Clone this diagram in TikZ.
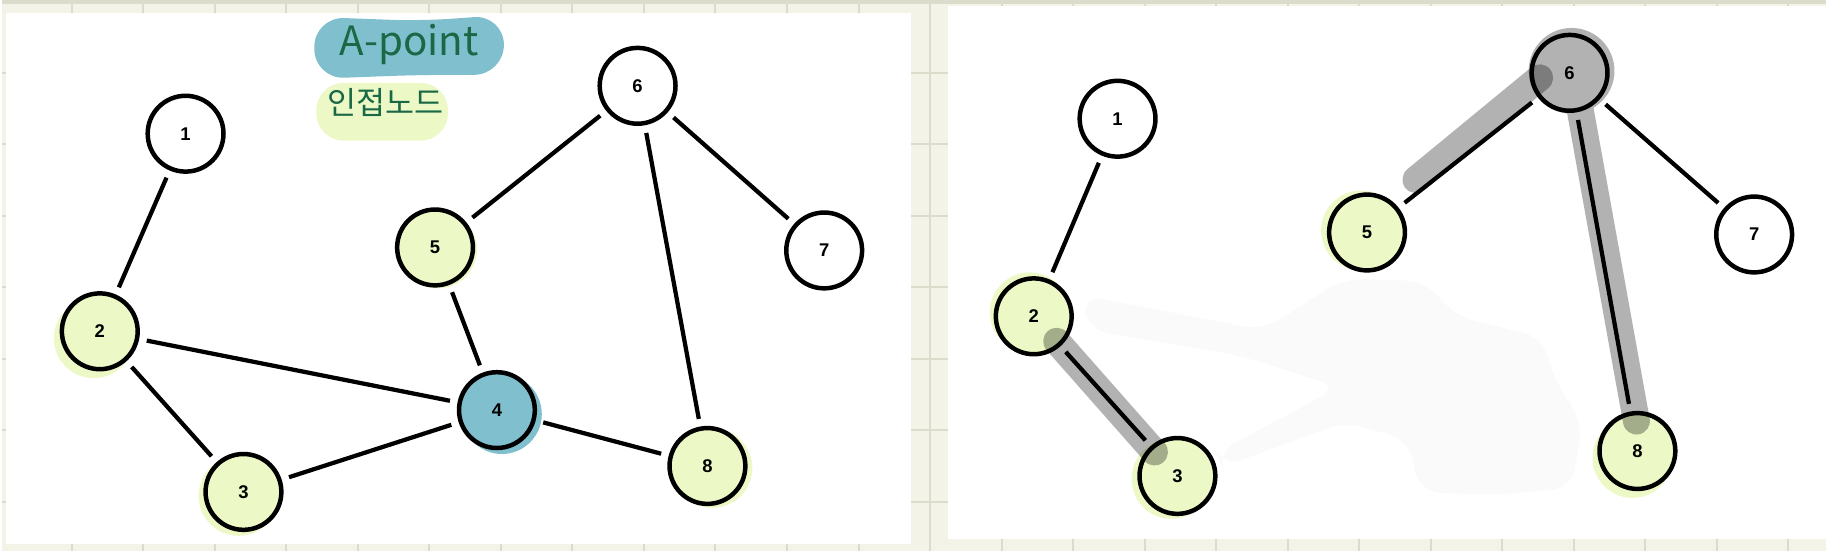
\documentclass[tikz,border=0pt]{standalone}
\usepackage{fontspec}
\setmainfont{Liberation Sans}
\newfontfamily\cjk{Noto Sans CJK KR}
\usetikzlibrary{calc}

\definecolor{paper}{RGB}{243,243,231}
\definecolor{gridline}{RGB}{220,220,205}
\definecolor{apoint}{RGB}{128,191,206}
\definecolor{adjnode}{RGB}{236,249,199}
\definecolor{pen}{RGB}{26,104,70}
\definecolor{smudge}{RGB}{250,250,250}

\begin{document}
\begin{tikzpicture}[
    x=0.02cm, y=-0.02cm,
    vertex/.style={draw, circle, line width=0.09cm, minimum size=1.52cm, inner sep=0pt, outer sep=0.2cm, fill=white, font=\fontsize{10.5}{12}\selectfont\bfseries},
    adj/.style={vertex, fill=adjnode},
    cut/.style={vertex, fill=apoint},
    edge/.style={line width=0.085cm},
    hl/.style={line width=0.54cm, line cap=round, draw=black, opacity=0.3}
]
% paper and grid
\fill[paper] (0,0) rectangle (1828,551);
\foreach \k in {0,...,24}
    \draw[gridline, line width=0.04cm] ({70+71.67*\k},0) -- ({70+71.67*\k},551);
\foreach \k in {1,...,7}
    \draw[gridline, line width=0.04cm] (0,{71.67*\k}) -- (1828,{71.67*\k});
\draw[gridline, line width=0.08cm] (0,1) -- (1828,1);
\fill[white] (4.5,12) rectangle (911,544);
\fill[white] (948,5) rectangle (1828,539);

% left panel
\coordinate (l1) at (184,133);
\coordinate (l2) at (98,331);
\coordinate (l3) at (242,492);
\coordinate (l4) at (496,410);
\coordinate (l5) at (434,247);
\coordinate (l6) at (637,85);
\coordinate (l7) at (824,250);
\coordinate (l8) at (707,466);

\fill[apoint, rounded corners=0.6cm] (313,16) -- (420,20) -- (503,14) -- (503,74) -- (420,74) -- (313,78) -- cycle;
\node[text=pen, font=\cjk\fontsize{23}{23}\selectfont] (apt) at (408,44) {A-point};
\fill[adjnode, rounded corners=0.55cm] (315,82) rectangle (447,140);
\node[text=pen, font=\cjk\fontsize{18}{18}\selectfont] (adj) at (384,102) {인접노드};

\fill[adjnode] ($(l2)+(-6,7)$) circle (0.8cm);
\fill[adjnode] ($(l3)+(-5,4)$) circle (0.8cm);
\fill[adjnode] ($(l5)+(3,2)$) circle (0.78cm);
\fill[adjnode] ($(l8)+(5,2)$) circle (0.8cm);
\fill[apoint] ($(l4)+(5,4)$) circle (0.8cm);

\node[vertex] (L1) at (l1) {1};
\node[adj] (L2) at (l2) {2};
\node[adj] (L3) at (l3) {3};
\node[cut] (L4) at (l4) {4};
\node[adj] (L5) at (l5) {5};
\node[vertex] (L6) at (l6) {6};
\node[vertex] (L7) at (l7) {7};
\node[adj] (L8) at (l8) {8};

\draw[edge] (L1) -- (L2);
\draw[edge] (L2) -- (L4);
\draw[edge] (L2) -- (L3);
\draw[edge] (L3) -- (L4);
\draw[edge] (L4) -- (L5);
\draw[edge] (L4) -- (L8);
\draw[edge] (L5) -- (L6);
\draw[edge] (L6) -- (L7);
\draw[edge] (L6) -- (L8);

% right panel: A-point removed
\coordinate (r1) at (1118,118);
\coordinate (r2) at (1034,316);
\coordinate (r3) at (1178,476);
\coordinate (r5) at (1368,232);
\coordinate (r6) at (1571,72);
\coordinate (r7) at (1756,234);
\coordinate (r8) at (1639,451);

\fill[smudge, rounded corners=0.4cm] (1083,295) -- (1264,330) -- (1345,278) -- (1427,281) -- (1456,316)
    -- (1544,337) -- (1555,379) -- (1584,422) -- (1573,488) -- (1497,495) -- (1421,492)
    -- (1409,439) -- (1345,422) -- (1223,467) -- (1217,453) -- (1340,387) -- (1240,355)
    -- (1089,330) -- cycle;

\fill[adjnode] ($(r2)+(-4,-4)$) circle (0.8cm);
\fill[adjnode] ($(r3)+(-6,3)$) circle (0.8cm);
\fill[adjnode] ($(r5)+(-6,-2)$) circle (0.8cm);
\fill[adjnode] ($(r8)+(-5,7)$) circle (0.8cm);

\node[vertex] (R1) at (r1) {1};
\node[adj] (R2) at (r2) {2};
\node[adj] (R3) at (r3) {3};
\node[adj] (R5) at (r5) {5};
\node[vertex] (R6) at (r6) {6};
\node[vertex] (R7) at (r7) {7};
\node[adj] (R8) at (r8) {8};

\draw[edge] (R1) -- (R2);
\draw[edge] (R2) -- (R3);
\draw[edge] (R6) -- (R5);
\draw[edge] (R6) -- (R7);
\draw[edge] (R6) -- (R8);

% highlighter
\draw[hl] (1057,341) -- (1155,452);
\draw[hl] (1541,77) -- (1417,179);
\begin{scope}[transparency group, opacity=0.3]
    \fill (1573,70) circle (0.86cm);
    \draw[line width=0.54cm, line cap=round] (1580,100) -- (1638,421);
\end{scope}
\end{tikzpicture}
\end{document}
